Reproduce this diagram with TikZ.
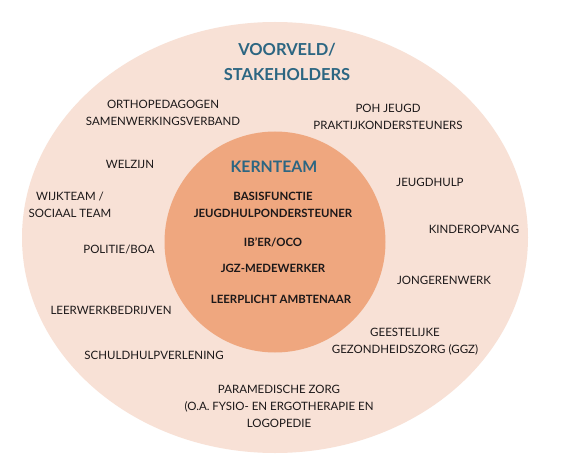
\documentclass[tikz,border=0pt]{standalone}
\usepackage{fontspec}
\setmainfont{Lato}
\usetikzlibrary{shapes.geometric}
\definecolor{outerfill}{RGB}{248,225,214}
\definecolor{innerfill}{RGB}{239,167,127}
\definecolor{ttl}{RGB}{44,102,130}
\definecolor{txt}{RGB}{28,24,25}
\begin{document}
\begin{tikzpicture}[x=1pt,y=-1pt,
  item/.style={font=\fontsize{11.5}{17}\selectfont, text=txt, align=center, inner sep=0pt},
  core/.style={font=\bfseries\fontsize{11.4}{17}\selectfont, text=txt, align=center, inner sep=0pt},
  ttlstyle/.style={font=\bfseries\fontsize{16.5}{25}\selectfont, text=ttl, align=center, inner sep=0pt}]
\useasboundingbox (0,0) rectangle (581,468);
\fill[white] (0,0) rectangle (581,468);
\node[ellipse, fill=outerfill, draw=none, minimum width=506pt, minimum height=431pt, inner sep=0pt] (outer) at (275,237.5) {};
\node[circle, fill=innerfill, draw=none, minimum size=221pt, inner sep=0pt] (kern) at (275,242) {};
% titles
\node[ttlstyle] (voorveld) at (287,62) {VOORVELD/\\STAKEHOLDERS};
\node[ttlstyle, font=\bfseries\fontsize{15.8}{25}\selectfont] (kernteam) at (274,167) {KERNTEAM};
% core items
\node[core] (basis) at (273,205) {BASISFUNCTIE\\JEUGDHULPONDERSTEUNER};
\node[core] (ib) at (273,242) {IB'ER/OCO};
\node[core] (jgz) at (273,268) {JGZ-MEDEWERKER};
\node[core] (leer) at (281,299) {LEERPLICHT AMBTENAAR};
% outer items
\node[item] (ortho) at (163,112.5) {ORTHOPEDAGOGEN\\SAMENWERKINGSVERBAND};
\node[item] (poh) at (388,116.5) {POH JEUGD\\PRAKTIJKONDERSTEUNERS};
\node[item] (welzijn) at (130,164) {WELZIJN};
\node[item] (wijk) at (70,204.5) {WIJKTEAM /\\SOCIAAL TEAM};
\node[item] (jeugdhulp) at (430,182) {JEUGDHULP};
\node[item] (kinder) at (474,229) {KINDEROPVANG};
\node[item] (politie) at (119,250) {POLITIE/BOA};
\node[item] (jongeren) at (444,280) {JONGERENWERK};
\node[item] (leerwerk) at (111,310) {LEERWERKBEDRIJVEN};
\node[item] (ggz) at (405,341.5) {GEESTELIJKE\\GEZONDHEIDSZORG (GGZ)};
\node[item] (schuld) at (154,355) {SCHULDHULPVERLENING};
\node[item] (para) at (279,406) {PARAMEDISCHE ZORG\\(O.A. FYSIO- EN ERGOTHERAPIE EN\\LOGOPEDIE};
\end{tikzpicture}
\end{document}
